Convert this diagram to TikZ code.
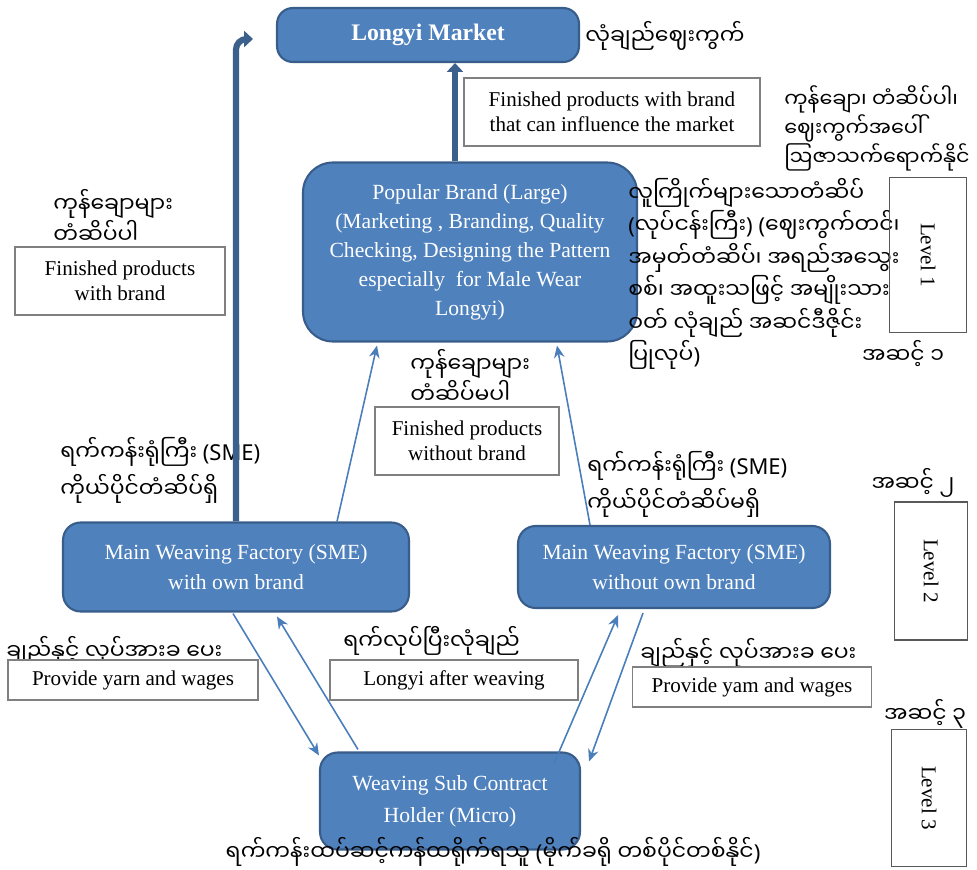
\documentclass[tikz,border=0pt]{standalone}
\usepackage{fontspec}
\setmainfont{Liberation Serif}
\newfontfamily\mmfont[Script=Myanmar]{Noto Sans Myanmar UI}
\newfontfamily\latfont{Noto Sans}
\newcommand\ltn[1]{{\latfont #1}}
\usetikzlibrary{arrows.meta,positioning,calc}
\definecolor{boxfill}{RGB}{79,129,189}
\definecolor{boxedge}{RGB}{56,93,138}
\definecolor{flowblue}{RGB}{74,126,187}
\definecolor{thickblue}{RGB}{60,96,140}

\begin{document}
\begin{tikzpicture}[x=0.02cm, y=-0.02cm,
  unit/.style={draw=boxedge, fill=boxfill, line width=1.2pt, rounded corners=9pt,
    text=white, align=center, inner sep=0pt, font=\fontsize{12.3}{17}\selectfont},
  tag/.style={draw=black!50, fill=white, line width=0.9pt, align=center,
    inner sep=0pt, font=\fontsize{12}{14.5}\selectfont},
  lvl/.style={draw=black!65, line width=0.8pt, inner sep=0pt, rotate=-90,
    font=\fontsize{12}{14}\selectfont},
  mm/.style={font=\mmfont\fontsize{12.5}{18.5}\selectfont, align=left, inner sep=0pt},
  arr/.style={-{Stealth[length=7pt,width=6pt]}, flowblue, line width=0.9pt},
  big/.style={-{Triangle[length=5pt,width=9pt]}, thickblue, line width=3.5pt}
]
\useasboundingbox (0,0) rectangle (977,869);

% level 1
\node[unit, minimum width=6.04cm, minimum height=1.08cm,
  font=\bfseries\fontsize{13.5}{16}\selectfont] (market) at (428,35) {Longyi Market};
\node[mm, anchor=west] (markettxt) at (585,36) {လုံချည်ဈေးကွက်};
\node[tag, minimum width=5.92cm, minimum height=1.36cm] (influence) at (612,112)
  {Finished products with brand\\that can influence the market};
\node[mm, anchor=north west, font=\mmfont\fontsize{11.8}{13.2}\selectfont] (influencetxt)
  at (784,85) {ကုန်ချော၊ တံဆိပ်ပါ၊\\ဈေးကွက်အပေါ်\\ဩဇာသက်ရောက်နိုင်};
\node[unit, rounded corners=17pt, minimum width=6.68cm, minimum height=3.58cm,
  font=\fontsize{12.3}{16.5}\selectfont] (popular) at (470,252)
  {Popular Brand (Large)\\(Marketing , Branding, Quality\\Checking, Designing the Pattern\\
   especially\ \ for Male Wear\\Longyi)};
\node[mm, anchor=north west] (populartxt) at (628,178)
  {လူကြိုက်များသောတံဆိပ်\\\ltn{(}လုပ်ငန်းကြီး\ltn{)} \ltn{(}ဈေးကွက်တင်၊\\အမှတ်တံဆိပ်၊ အရည်အသွေး\\
   စစ်၊ အထူးသဖြင့် အမျိုးသား\\ဝတ် လုံချည် အဆင်ဒီဇိုင်း\\ပြုလုပ်\ltn{)}};
\node[lvl, minimum width=3.1cm, minimum height=1.54cm] (lvone) at (928,255) {Level 1};
\node[mm] (lvonetxt) at (903,354) {အဆင့် ၁};

% branded products
\node[mm, anchor=south west, font=\mmfont\fontsize{12.5}{12.5}\selectfont] (brandtxt)
  at (53,244) {ကုန်ချောများ\\တံဆိပ်ပါ};
\node[tag, minimum width=4.2cm, minimum height=1.36cm] (branded) at (120,281)
  {Finished products\\with brand};
\node[mm, anchor=south west, font=\mmfont\fontsize{12.5}{12.5}\selectfont] (plaintxt)
  at (410,404) {ကုန်ချောများ\\တံဆိပ်မပါ};
\node[tag, minimum width=3.68cm, minimum height=1.36cm] (plain) at (467,441)
  {Finished products\\without brand};

% level 2
\node[mm, font=\mmfont\fontsize{12.5}{21}\selectfont, anchor=west] (smeatxt) at (60,470)
  {ရက်ကန်းရုံကြီး \ltn{(SME)}\\ကိုယ်ပိုင်တံဆိပ်ရှိ};
\node[mm, font=\mmfont\fontsize{12.5}{21}\selectfont, anchor=west] (smebtxt) at (587,484)
  {ရက်ကန်းရုံကြီး \ltn{(SME)}\\ကိုယ်ပိုင်တံဆိပ်မရှိ};
\node[unit, rounded corners=10pt, minimum width=6.92cm, minimum height=1.78cm] (smea)
  at (236,567) {Main Weaving Factory (SME)\\with own brand};
\node[unit, rounded corners=10pt, minimum width=6.24cm, minimum height=1.64cm] (smeb)
  at (674,567) {Main Weaving Factory (SME)\\without own brand};
\node[mm] (lvtwotxt) at (913,483) {အဆင့် ၂};
\node[lvl, minimum width=2.76cm, minimum height=1.46cm] (lvtwo) at (931,571) {Level 2};

% level 3
\node[mm, anchor=west] (yarnatxt) at (6,651) {ချည်နှင့် လုပ်အားခ ပေး};
\node[tag, minimum width=5cm, minimum height=0.8cm] (yarna) at (133,680)
  {Provide yarn and wages};
\node[mm, anchor=west] (woventxt) at (343,641) {ရက်လုပ်ပြီးလုံချည်};
\node[tag, minimum width=4.96cm, minimum height=0.8cm] (woven) at (454,680)
  {Longyi after weaving};
\node[mm, anchor=west] (yarnbtxt) at (640,653) {ချည်နှင့် လုပ်အားခ ပေး};
\node[tag, minimum width=4.78cm, minimum height=0.8cm] (yarnb) at (752,687)
  {Provide yam and wages};
\node[mm] (lvthreetxt) at (925,714) {အဆင့် ၃};
\node[lvl, minimum width=2.74cm, minimum height=1.5cm] (lvthree) at (929,798) {Level 3};
\node[unit, rounded corners=10pt, minimum width=5.2cm, minimum height=1.94cm,
  font=\fontsize{12.3}{18}\selectfont] (sub) at (450,801)
  {Weaving Sub Contract\\Holder (Micro)};
\node[mm] (subtxt) at (493,852)
  {ရက်ကန်းထပ်ဆင့်ကန်ထရိုက်ရသူ \ltn{(}မိုက်ခရို တစ်ပိုင်တစ်နိုင်\ltn{)}};

% flows
\coordinate (toptip) at (253,39);
\draw[big] ([xshift=-0.3cm]popular.north) -- ([xshift=-0.3cm]popular.north |- market.south);
\draw[big, rounded corners=6pt] (smea.north) |- (toptip);
\draw[arr] ($(smea.north)+(101,0)$) -- ($(popular.south west)+(75,3)$);
\draw[arr] ($(smeb.north)+(-84,0)$) -- ($(popular.south east)+(-81,3)$);
\draw[arr] ($(smea.south)+(-3,1)$) -- ($(sub.north west)+(0,4)$);
\draw[arr] ($(sub.north)+(-92,-2)$) -- ($(smea.south)+(41,4)$);
\draw[arr] ($(sub.north east)+(-27,12)$) -- ($(smeb.south)+(-56,6)$);
\draw[arr] ($(smeb.south)+(-31,4)$) -- ($(sub.north east)+(8,10)$);
\end{tikzpicture}
\end{document}
